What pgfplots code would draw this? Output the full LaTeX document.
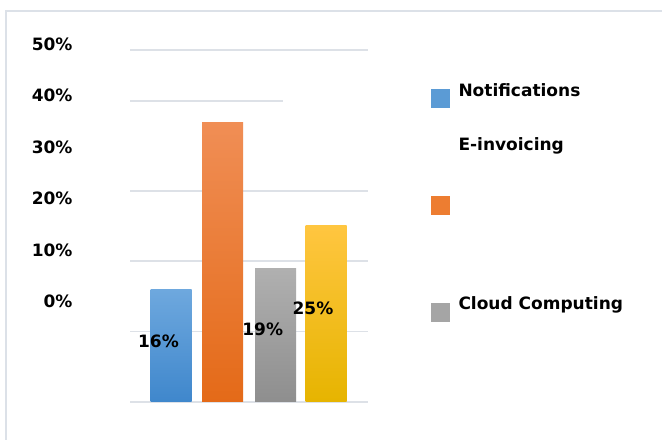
\documentclass[border=0pt]{standalone}
\usepackage{pgfplots}
\pgfplotsset{compat=1.18}
\usepackage{fontspec}
\setmainfont{DejaVu Sans}
\definecolor{gridc}{HTML}{DDE1E7}
\definecolor{framec}{HTML}{DCE1E8}
\definecolor{bluet}{HTML}{6EA8DE}
\definecolor{blueb}{HTML}{3F87CC}
\definecolor{oranget}{HTML}{F08E55}
\definecolor{orangeb}{HTML}{E46A18}
\definecolor{grayt}{HTML}{B0B0B0}
\definecolor{grayb}{HTML}{8E8E8E}
\definecolor{yellowt}{HTML}{FFC640}
\definecolor{yellowb}{HTML}{E6B400}
\definecolor{blueL}{HTML}{5B9BD5}
\definecolor{orangeL}{HTML}{ED7D31}
\definecolor{grayL}{HTML}{A5A5A5}
\newcommand\lbl{\fontsize{17bp}{20bp}\selectfont\bfseries}
\begin{document}
\begin{tikzpicture}
\useasboundingbox (0,0) rectangle (662bp,440bp);
\clip (0,0) rectangle (662bp,440bp);
\fill[white] (0,0) rectangle (662bp,440bp);
\draw[framec, line width=1.5bp] (6bp,-20bp) rectangle (700bp,429bp);
% main axis
\begin{axis}[
  at={(130bp,38bp)}, anchor=south west,
  scale only axis, width=238bp, height=352bp,
  xmin=130, xmax=368, ymin=0, ymax=50,
  axis line style={draw=none},
  xtick=\empty, ytick={0,10,20,30,50}, yticklabels={},
  major tick length=0,
  ymajorgrids, major grid style={gridc, line width=1.6bp},
  clip=false,
  ybar, bar width=41, bar shift=0pt,
]
\addplot[draw=none, top color=bluet, bottom color=blueb] coordinates {(171,16)};
\addplot[draw=none, top color=oranget, bottom color=orangeb] coordinates {(222.5,39.7)};
\addplot[draw=none, top color=grayt, bottom color=grayb] coordinates {(275.5,19)};
\addplot[draw=none, top color=yellowt, bottom color=yellowb] coordinates {(326,25)};
\addplot[sharp plot, gridc, line width=1.6bp] coordinates {(130,42.76) (283,42.76)};
\node[inner sep=0pt, font=\lbl] at (axis cs:158.5,8.57) {16\%};
\node[inner sep=0pt, font=\lbl] at (axis cs:262.7,10.37) {19\%};
\node[inner sep=0pt, font=\lbl] at (axis cs:313,13.35) {25\%};
\end{axis}
% tick label axis
\begin{axis}[
  at={(72.7bp,138.3bp)}, anchor=south west,
  scale only axis, width=10bp, height=257.7bp,
  xmin=0, xmax=1, ymin=0, ymax=50,
  axis line style={draw=none},
  xtick=\empty, ytick={0,10,20,30,40,50},
  yticklabels={0\%,10\%,20\%,30\%,40\%,50\%},
  major tick length=0,
  /pgf/number format/assume math mode=true,
  yticklabel style={font=\lbl, anchor=east, inner sep=0pt},
]
\addplot[draw=none] coordinates {(0,0)};
\end{axis}
% legend
\fill[blueL] (431bp,332bp) rectangle (450bp,351bp);
\fill[orangeL] (431bp,225bp) rectangle (450bp,244bp);
\fill[grayL] (431bp,118bp) rectangle (450bp,137bp);
\node[inner sep=0pt, anchor=base west, font=\lbl] at (458.3bp,343.3bp) {Notifications};
\node[inner sep=0pt, anchor=base west, font=\lbl] at (458.3bp,289.3bp) {E-invoicing};
\node[inner sep=0pt, anchor=base west, font=\lbl] at (458.3bp,130bp) {Cloud Computing};
\end{tikzpicture}
\end{document}
